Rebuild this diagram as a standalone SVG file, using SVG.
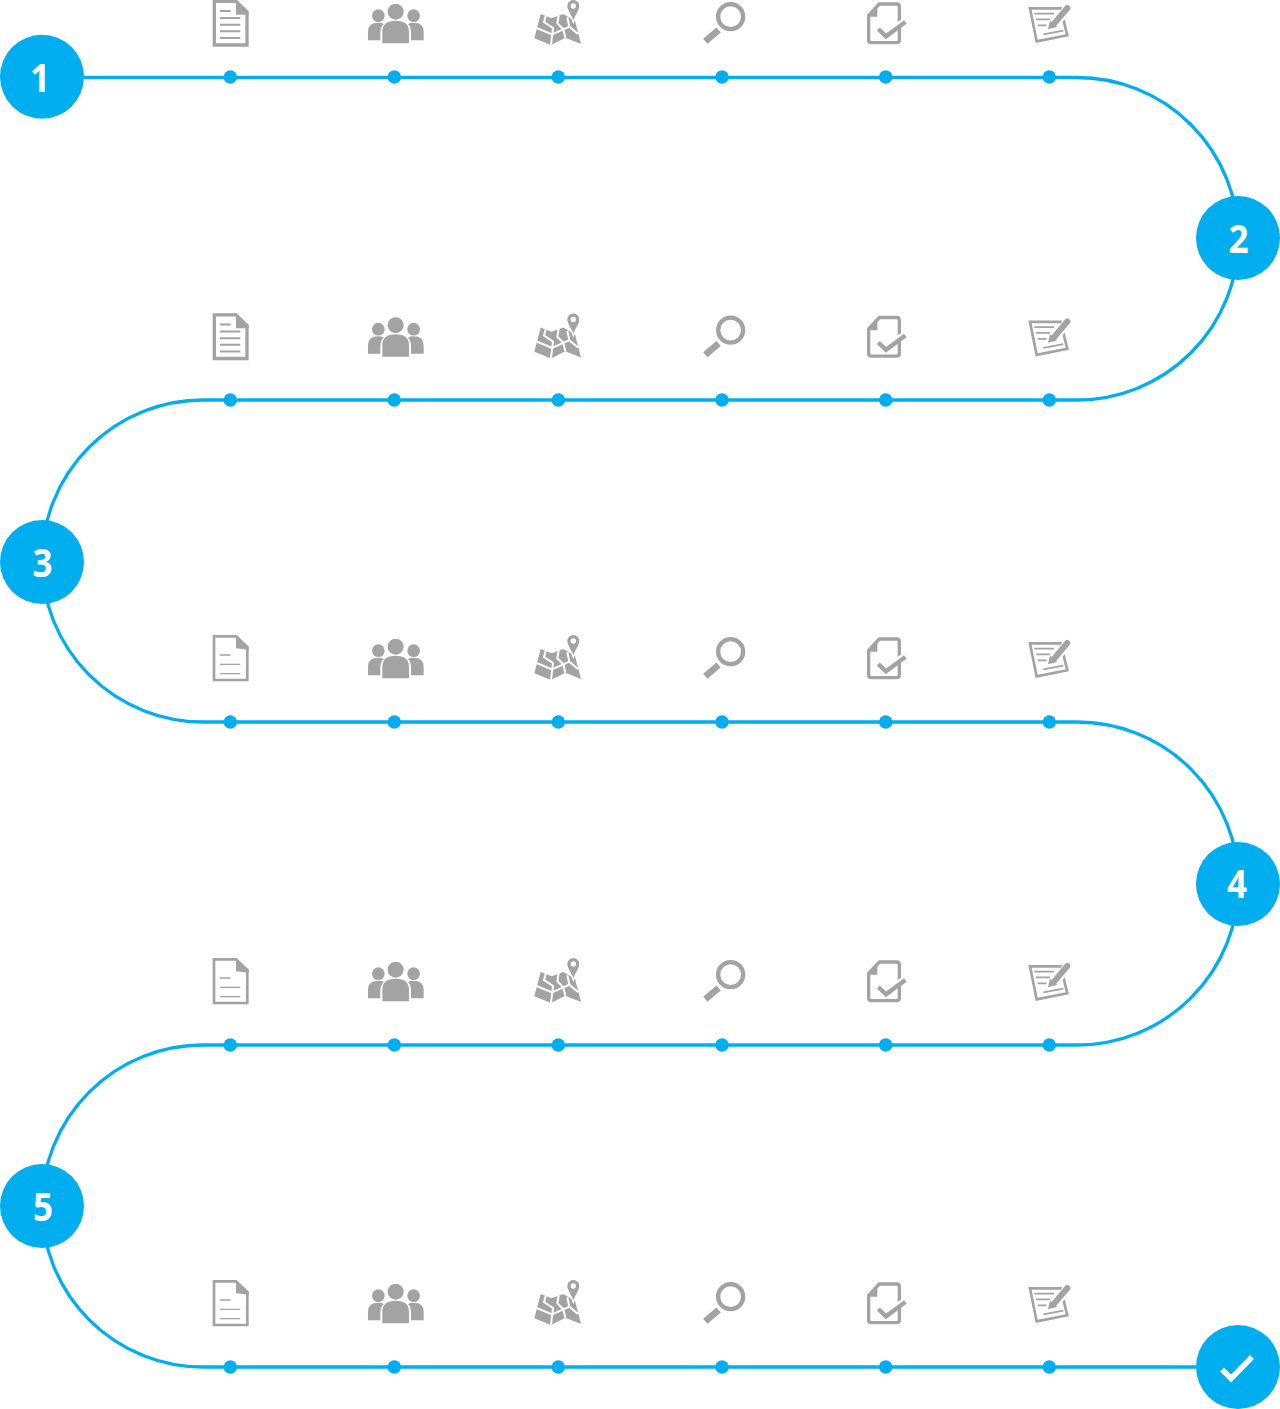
<svg xmlns="http://www.w3.org/2000/svg" width="1280" height="1409" viewBox="0 0 1280 1409">
<style>
.wire{fill:none;stroke:#00aeef;stroke-width:3.300}
.hub{fill:#00aeef}
.dot{fill:#00aeef}
.num{font-family:"Open Sans","Noto Sans",sans-serif;font-weight:700;font-size:39px;fill:#fff;text-anchor:middle}
.g{fill:#a3a3a3}
.gl{fill:none;stroke:#a3a3a3}
.w{fill:none;stroke:#fff}
</style>
<defs>
<g id="doc5" transform="translate(200 0) scale(.3333)">
<path class="gl" stroke-width="10" d="M43 4H108L141 36V135H43Z" fill="#fff"/>
<path class="g" d="M108 0L146 36V44H108Z"/>
<path class="gl" stroke-width="6" d="M60 33H92M60 54H121M60 74H121M60 94H121M60 114H121"/>
</g>
<g id="doc3" transform="translate(200 0) scale(.3333)">
<path class="gl" stroke-width="8" d="M42 4H108L142 36V135H42Z"/>
<path class="g" d="M108 0L146 36V44L108 40Z"/>
<path class="gl" stroke-width="4" d="M60 60H92M60 88H121M60 116H121"/>
</g>
<g id="people" transform="translate(200 0) scale(.3333)">
<circle class="g" cx="587" cy="35" r="24"/><circle class="g" cx="535" cy="47" r="19"/><circle class="g" cx="641" cy="47" r="19"/>
<path class="g" d="M547 130V95Q547 62 587 62Q627 62 627 95V130Z"/>
<path class="g" d="M504 121V95Q504 68 535 68Q545 68 552 72Q541 80 541 98V121Z"/>
<path class="g" d="M671 121V95Q671 68 641 68Q631 68 624 72Q633 80 633 98V121Z"/>
</g>
<g id="map" transform="translate(520 0) scale(.3333)">
<path class="g" d="M62 42L95 55L130 42L165 62L183 132L136 113L93 135L43 115Z"/>
<path class="w" stroke-width="6" d="M78 44L72 66L99 84L93 135M50 84L96 103L130 88M116 46L112 70L130 88L136 113M142 52L148 80L130 88M148 80L174 102"/>
<path class="g" stroke="#fff" stroke-width="4" d="M160 -2A20 20 0 0 1 180 18C180 34 167 44 160 66C153 44 140 34 140 18A20 20 0 0 1 160 -2Z"/>
<circle cx="160" cy="18" r="8" fill="#fff"/>
</g>
<g id="lens" transform="translate(520 0) scale(.3333)">
<circle class="gl" cx="632" cy="50" r="37.500" stroke-width="13"/>
<path class="gl" stroke-width="20" d="M556 124L596 90"/>
</g>
<g id="check" transform="translate(850 0) scale(.3333)">
<path class="gl" stroke-width="10" stroke-linejoin="round" d="M88 12H140Q148 12 148 20V120Q148 128 140 128H64Q56 128 56 120V46Z"/>
<path class="g" d="M82 16V50H56Z"/>
<path class="w" stroke-width="18" d="M95 84L108 98L172 58"/>
<path class="gl" stroke-width="13" d="M85 87L108 109L166 66"/>
</g>
<g id="note" transform="translate(850 0) scale(.3333)">
<path class="gl" stroke-width="8" d="M540 25H632L652 106L560 124Z"/>
<path class="gl" stroke-width="5" d="M553 41H612M558 58H600M563 76H590M580 103L640 92"/>
<path class="w" stroke-width="28" d="M605 82L658 20"/>
<path class="gl" stroke-width="18" stroke-linecap="round" d="M610 74L652 24"/>
<path class="g" d="M594 88L600 62L622 80Z"/>
</g>
</defs>

<g id="connectors">
<path class="wire" d="M84 77.500H1077A161.250 161.250 0 0 1 1077 400H203A161 161 0 0 0 203 722H1077A161.500 161.500 0 0 1 1077 1045H203A161 161 0 0 0 203 1367H1196"/>
</g>

<g id="row1">
<use href="#doc5"/><use href="#people"/><use href="#map"/><use href="#lens"/><use href="#check"/><use href="#note"/>
<circle class="dot" cx="230.300" cy="77" r="6.700"/><circle class="dot" cx="394.300" cy="77" r="6.700"/><circle class="dot" cx="558.300" cy="77" r="6.700"/><circle class="dot" cx="722" cy="77" r="6.700"/><circle class="dot" cx="885.700" cy="77" r="6.700"/><circle class="dot" cx="1049.300" cy="77" r="6.700"/>
</g>
<g id="row2" transform="translate(0 323)">
<g transform="translate(0 -9.500)"><use href="#doc5"/><use href="#people"/><use href="#map"/><use href="#lens"/><use href="#check"/><use href="#note"/></g>
<circle class="dot" cx="230.300" cy="77" r="6.700"/><circle class="dot" cx="394.300" cy="77" r="6.700"/><circle class="dot" cx="558.300" cy="77" r="6.700"/><circle class="dot" cx="722" cy="77" r="6.700"/><circle class="dot" cx="885.700" cy="77" r="6.700"/><circle class="dot" cx="1049.300" cy="77" r="6.700"/>
</g>
<g id="row3" transform="translate(0 645)">
<g transform="translate(0 -10)"><use href="#doc3"/><use href="#people"/><use href="#map"/><use href="#lens"/><use href="#check"/><use href="#note"/></g>
<circle class="dot" cx="230.300" cy="77" r="6.700"/><circle class="dot" cx="394.300" cy="77" r="6.700"/><circle class="dot" cx="558.300" cy="77" r="6.700"/><circle class="dot" cx="722" cy="77" r="6.700"/><circle class="dot" cx="885.700" cy="77" r="6.700"/><circle class="dot" cx="1049.300" cy="77" r="6.700"/>
</g>
<g id="row4" transform="translate(0 968)">
<g transform="translate(0 -10)"><use href="#doc3"/><use href="#people"/><use href="#map"/><use href="#lens"/><use href="#check"/><use href="#note"/></g>
<circle class="dot" cx="230.300" cy="77" r="6.700"/><circle class="dot" cx="394.300" cy="77" r="6.700"/><circle class="dot" cx="558.300" cy="77" r="6.700"/><circle class="dot" cx="722" cy="77" r="6.700"/><circle class="dot" cx="885.700" cy="77" r="6.700"/><circle class="dot" cx="1049.300" cy="77" r="6.700"/>
</g>
<g id="row5" transform="translate(0 1290)">
<g transform="translate(0 -10)"><use href="#doc3"/><use href="#people"/><use href="#map"/><use href="#lens"/><use href="#check"/><use href="#note"/></g>
<circle class="dot" cx="230.300" cy="77" r="6.700"/><circle class="dot" cx="394.300" cy="77" r="6.700"/><circle class="dot" cx="558.300" cy="77" r="6.700"/><circle class="dot" cx="722" cy="77" r="6.700"/><circle class="dot" cx="885.700" cy="77" r="6.700"/><circle class="dot" cx="1049.300" cy="77" r="6.700"/>
</g>

<g id="hub1"><circle class="hub" cx="42" cy="76.700" r="42"/><text class="num" transform="translate(40 92) scale(.9 1)">1</text></g>
<g id="hub2"><circle class="hub" cx="1238" cy="238" r="42"/><text class="num" transform="translate(1238.500 253) scale(.9 1)">2</text></g>
<g id="hub3"><circle class="hub" cx="42" cy="562" r="42"/><text class="num" transform="translate(42.500 577) scale(.9 1)">3</text></g>
<g id="hub4"><circle class="hub" cx="1238" cy="884" r="42"/><text class="num" transform="translate(1237 898) scale(.9 1)">4</text></g>
<g id="hub5"><circle class="hub" cx="42" cy="1206" r="42"/><text class="num" transform="translate(43 1221) scale(.9 1)">5</text></g>
<g id="hub-done"><circle class="hub" cx="1238" cy="1367" r="42"/><path fill="none" stroke="#fff" stroke-width="5.500" d="M1222 1369.500L1231 1378.500L1252 1357"/></g>
</svg>
